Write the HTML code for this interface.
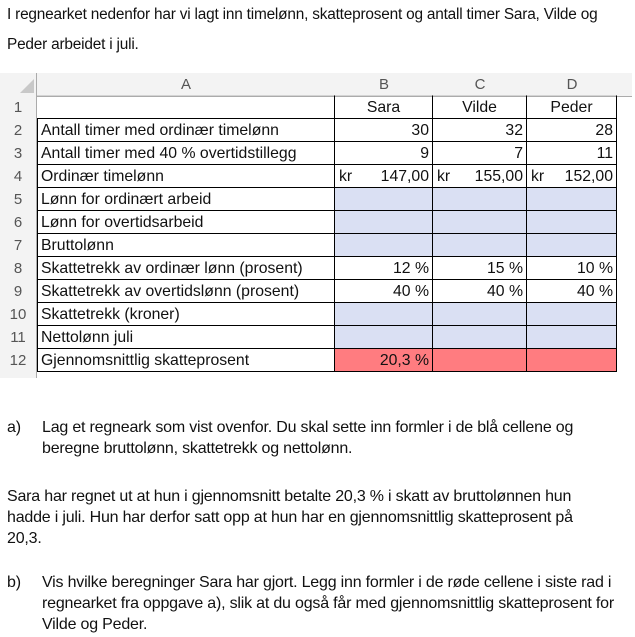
<!DOCTYPE html>
<html><head><meta charset="utf-8"><style>
body{margin:0;width:635px;height:637px;background:#fff;position:relative;overflow:hidden;font-family:"Liberation Sans",sans-serif;color:#111}
.t{position:absolute;font-size:16px;letter-spacing:-0.2px;white-space:nowrap;line-height:21px}
.c{position:absolute;box-sizing:border-box;font-family:"Liberation Sans",sans-serif;font-size:15.8px;line-height:23px;height:23px;white-space:nowrap;overflow:hidden}
.hd{color:#555;text-align:center;font-size:15px}
.rn{color:#555;text-align:center;font-size:15px}
.r{text-align:right;padding-right:3px}
.bl{background:#dae0f3}
.rd{background:#ff7c80}
.b{border:1px solid #000}
</style></head><body>
<div class="t" style="left:7px;top:4px;font-size:15.4px">I regnearket nedenfor har vi lagt inn timelønn, skatteprosent og antall timer Sara, Vilde og</div>
<div class="t" style="left:7px;top:34px;font-size:15.4px">Peder arbeidet i juli.</div>

<div style="position:absolute;left:0;top:73px;width:635px;height:305px">
<div style="position:absolute;left:0;top:0;width:632px;height:23px;background:#f3f3f3;border-bottom:1px solid #ababab"></div>
<div style="position:absolute;left:0;top:0;width:36px;height:305px;background:#f3f3f3;border-right:1px solid #ababab"></div>
<svg style="position:absolute;left:20px;top:6px" width="14" height="14"><polygon points="14,0 14,14 0,14" fill="#c8c8c8"/></svg>
<div class="c hd" style="left:37px;top:0;width:298px">A</div>
<div class="c hd" style="left:335px;top:0;width:98px">B</div>
<div class="c hd" style="left:433px;top:0;width:94px">C</div>
<div class="c hd" style="left:527px;top:0;width:90px">D</div>
</div>

<div id="grid"></div>
<script>
var rows=[
 ["",["Sara","Vilde","Peder"],"hdr"],
 ["Antall timer med ordinær timelønn",["30","32","28"],""],
 ["Antall timer med 40 % overtidstillegg",["9","7","11"],""],
 ["Ordinær timelønn",["147,00","155,00","152,00"],"kr"],
 ["Lønn for ordinært arbeid",["","",""],"bl"],
 ["Lønn for overtidsarbeid",["","",""],"bl"],
 ["Bruttolønn",["","",""],"bl"],
 ["Skattetrekk av ordinær lønn (prosent)",["12 %","15 %","10 %"],""],
 ["Skattetrekk av overtidslønn (prosent)",["40 %","40 %","40 %"],""],
 ["Skattetrekk (kroner)",["","",""],"bl"],
 ["Nettolønn juli",["","",""],"bl"],
 ["Gjennomsnittlig skatteprosent",["20,3 %","",""],"rd"]
];
var colX=[37,335,433,527,617];
var g=document.getElementById('grid');
function mk(x,y,w,cls,txt){var d=document.createElement('div');d.className='c '+cls;d.style.left=x+'px';d.style.top=y+'px';d.style.width=w+'px';d.textContent=txt;g.appendChild(d);return d;}
rows.forEach(function(r,i){
 var y=96+i*23;
 var n=mk(0,y,36,'rn',String(i+1));
 
 
 var a=mk(37,y,298,i==0?'':'b','');
 a.style.borderTop=i==0?'1px solid #d4d4d4':'';
 a.style.paddingLeft='3px';a.textContent=r[0];
 if(i==0){a.style.borderBottom='1px solid #000';a.style.borderRight='1px solid #d4d4d4';}
 
 
 for(var j=0;j<3;j++){
  var cls=r[2]=='hdr'?'':(r[2]=='bl'?'b bl r':(r[2]=='rd'?'b rd r':'b r'));
  var c=mk(colX[j+1]-1,y,colX[j+2]-colX[j+1]+1,cls,r[1][j]);
  if(r[2]=='hdr'){c.style.textAlign='center';c.style.border='1px solid #000';c.style.borderTop='1px solid #d4d4d4';}
  if(r[2]=='kr'){c.innerHTML='<span style="position:absolute;left:4px">kr</span>'+r[1][j];}
  c.style.marginTop='-1px';c.style.height='24px';
  
  
 }
 a.style.marginTop='-1px';a.style.height='24px';
});
</script>

<div class="t" style="left:7px;top:417px">a)</div>
<div class="t" style="left:42px;top:417px">Lag et regneark som vist ovenfor. Du skal sette inn formler i de blå cellene og</div>
<div class="t" style="left:42px;top:438px">beregne bruttolønn, skattetrekk og nettolønn.</div>
<div class="t" style="left:7px;top:486px">Sara har regnet ut at hun i gjennomsnitt betalte 20,3 % i skatt av bruttolønnen hun</div>
<div class="t" style="left:7px;top:507px">hadde i juli. Hun har derfor satt opp at hun har en gjennomsnittlig skatteprosent på</div>
<div class="t" style="left:7px;top:528px">20,3.</div>
<div class="t" style="left:7px;top:572px">b)</div>
<div class="t" style="left:42px;top:572px">Vis hvilke beregninger Sara har gjort. Legg inn formler i de røde cellene i siste rad i</div>
<div class="t" style="left:42px;top:593px">regnearket fra oppgave a), slik at du også får med gjennomsnittlig skatteprosent for</div>
<div class="t" style="left:42px;top:614px">Vilde og Peder.</div>
</body></html>
